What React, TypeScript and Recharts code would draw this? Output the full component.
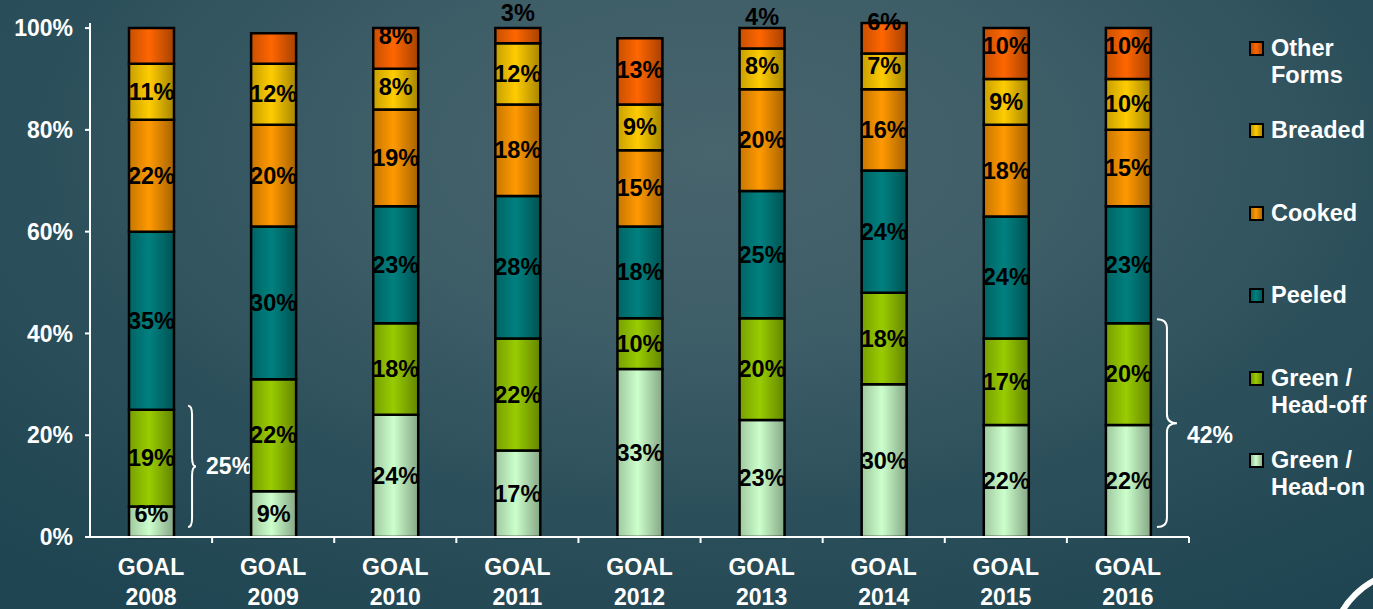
import React from 'react';
import { BarChart, Bar, XAxis, YAxis, LabelList, Legend, ReferenceArea } from 'recharts';

// Product-form mix per goal year (percent of volume)
const years = ['2008', '2009', '2010', '2011', '2012', '2013', '2014', '2015', '2016'];
const headOn = [6, 9, 24, 17, 33, 23, 30, 22, 22];
const headOff = [19, 22, 18, 22, 10, 20, 18, 17, 20];
const peeled = [35, 30, 23, 28, 18, 25, 24, 24, 23];
const cooked = [22, 20, 19, 18, 15, 20, 16, 18, 15];
const breaded = [11, 12, 8, 12, 9, 8, 7, 9, 10];
const otherForms = [7, 6, 8, 3, 13, 4, 6, 10, 10];
const otherLabelled = [false, false, true, true, true, true, true, true, true];
const yTicks = [0, 20, 40, 60, 80, 100];

const data = years.map((year, i) => ({
  year,
  headOn: headOn[i],
  headOff: headOff[i],
  peeled: peeled[i],
  cooked: cooked[i],
  breaded: breaded[i],
  other: otherForms[i],
  otherLabelled: otherLabelled[i],
}));

const series = [
  { key: 'headOn', name: 'Green /\nHead-on', color: '#CCFFCC' },
  { key: 'headOff', name: 'Green /\nHead-off', color: '#99CC00' },
  { key: 'peeled', name: 'Peeled', color: '#008080' },
  { key: 'cooked', name: 'Cooked', color: '#FF9900' },
  { key: 'breaded', name: 'Breaded', color: '#FFCC00' },
  { key: 'other', name: 'Other\nForms', color: '#FF6600' },
];

const FONT = '"Liberation Sans", Arial, sans-serif';
const W = 1373;
const H = 609;
const MARGIN = { top: 23, right: 184, bottom: 0, left: 0 };
const Y_AXIS_W = 90;
const PLOT_W = W - MARGIN.left - MARGIN.right - Y_AXIS_W;
const BAND = PLOT_W / years.length;

function shade(hex: string, f: number) {
  const n = parseInt(hex.slice(1), 16);
  const r = Math.round(((n >> 16) & 255) * f);
  const g = Math.round(((n >> 8) & 255) * f);
  const b = Math.round((n & 255) * f);
  return `rgb(${r},${g},${b})`;
}

const CategoryTick = (props: any) => {
  const { x, y, payload } = props;
  return (
    <g>
      <line x1={x + BAND / 2} x2={x + BAND / 2} y1={y} y2={y + 6} stroke="#fff" strokeWidth={2} />
      <text x={x} y={y} textAnchor="middle" fill="#fff" fontSize={23} fontWeight="bold" fontFamily={FONT}>
        <tspan x={x} dy={38}>GOAL</tspan>
        <tspan x={x} dy={30}>{payload.value}</tspan>
      </text>
    </g>
  );
};

const makeSegmentLabel = (key: string) => (props: any) => {
  const { x, y, width, height, value, index } = props;
  if (key === 'other' && !data[index].otherLabelled) return null;
  const lift = key === 'other' ? Math.max(0, (13.5 - value) * 2.2) : Math.max(0, (9 - value) * 2.5);
  const cx = x + width / 2;
  const cy = y + height / 2 - lift;
  return (
    <text
      x={cx}
      y={cy}
      dy={8}
      textAnchor="middle"
      fill="#000"
      fontSize={23.5}
      fontWeight="bold"
      fontFamily={FONT}
    >
      {`${value}%`}
    </text>
  );
};

const Brace = (props: any) => {
  const { x, y, width, height, gap, depth, total, labelDy } = props;
  const x0 = x + width / 2 + gap;
  const top = y - 4;
  const bottom = y + height - 10;
  const mid = (top + bottom) / 2;
  const r = 9;
  const xm = x0 + depth / 2;
  const d = [
    `M ${x0} ${top}`,
    `Q ${xm} ${top} ${xm} ${top + r}`,
    `L ${xm} ${mid - r}`,
    `Q ${xm} ${mid} ${x0 + depth} ${mid}`,
    `Q ${xm} ${mid} ${xm} ${mid + r}`,
    `L ${xm} ${bottom - r}`,
    `Q ${xm} ${bottom} ${x0} ${bottom}`,
  ].join(' ');
  return (
    <g>
      <path d={d} fill="none" stroke="#fff" strokeWidth={2} />
      <text
        x={x0 + depth + 10}
        y={mid + labelDy}
        dy={8}
        fill="#fff"
        fontSize={23}
        fontWeight="bold"
        fontFamily={FONT}
      >{`${total}%`}</text>
    </g>
  );
};

// Legend lists the stack top-down: Other Forms first, Head-on last
const LegendContent = () => {
  const items = [...series].reverse();
  return (
    <div style={{ position: 'relative', fontFamily: FONT }}>
      {items.map((s, i) => (
        <div key={s.key} style={{ position: 'absolute', left: 0, top: i * 82.4, width: 124 }}>
          <div
            style={{
              position: 'absolute',
              left: 0,
              top: 6,
              width: 11,
              height: 11,
              border: '2px solid #000',
              background: `linear-gradient(90deg, ${shade(s.color, 0.75)}, ${s.color} 45%, ${shade(s.color, 0.7)})`,
            }}
          />
          <div
            style={{
              position: 'absolute',
              left: 22,
              top: 0,
              color: '#fff',
              fontSize: 23.5,
              fontWeight: 'bold',
              lineHeight: '27px',
              whiteSpace: 'pre',
            }}
          >
            {s.name}
          </div>
        </div>
      ))}
    </div>
  );
};

export default function App() {
  const sum2008 = headOn[0] + headOff[0];
  const last = years.length - 1;
  const sumLast = headOn[last] + headOff[last];
  return (
    <div
      style={{
        position: 'absolute',
        left: 0,
        top: 0,
        width: W,
        height: H,
        overflow: 'hidden',
        background:
          'radial-gradient(ellipse 75% 90% at 52% 25%, #48646d 0%, #3d5d67 35%, #2c505b 65%, #1f4552 100%)',
      }}
    >
      <BarChart width={W} height={H} data={data} margin={MARGIN} barSize={45}>
        <defs>
          {series.map((s) => (
            <linearGradient key={s.key} id={`g-${s.key}`} x1="0" y1="0" x2="1" y2="0">
              <stop offset="0%" stopColor={shade(s.color, 0.78)} />
              <stop offset="45%" stopColor={s.color} />
              <stop offset="100%" stopColor={shade(s.color, 0.65)} />
            </linearGradient>
          ))}
        </defs>
        <XAxis
          dataKey="year"
          type="category"
          height={72}
          axisLine={{ stroke: '#fff', strokeWidth: 2 }}
          tickLine={false}
          tickSize={0}
          tickMargin={0}
          interval={0}
          tick={<CategoryTick />}
        />
        <YAxis
          type="number"
          width={Y_AXIS_W}
          domain={[0, 'dataMax']}
          ticks={yTicks}
          interval={0}
          tickFormatter={(v: number) => `${v}%`}
          axisLine={{ stroke: '#fff', strokeWidth: 2 }}
          tickLine={{ stroke: '#fff', strokeWidth: 2 }}
          tickSize={5}
          tickMargin={12}
          tick={{ fill: '#fff', fontSize: 23, fontWeight: 'bold', fontFamily: FONT }}
        />
        {series.map((s) => (
          <Bar
            key={s.key}
            dataKey={s.key}
            name={s.name}
            stackId="mix"
            fill={`url(#g-${s.key})`}
            stroke="#000"
            strokeWidth={2.5}
            isAnimationActive={false}
          >
            <LabelList dataKey={s.key} content={makeSegmentLabel(s.key)} />
          </Bar>
        ))}
        <ReferenceArea
          x1={years[0]}
          x2={years[0]}
          y1={0}
          y2={sum2008}
          ifOverflow="visible"
          shape={(p: any) => <Brace {...p} gap={37} depth={8} total={sum2008} labelDy={0} />}
        />
        <ReferenceArea
          x1={years[last]}
          x2={years[last]}
          y1={0}
          y2={sumLast}
          ifOverflow="visible"
          shape={(p: any) => <Brace {...p} gap={29} depth={20} total={sumLast} labelDy={12} />}
        />
        <Legend
          layout="vertical"
          align="center"
          verticalAlign="middle"
          content={<LegendContent />}
          wrapperStyle={{ position: 'absolute', left: 1249, top: 35, width: 124, height: 500 }}
        />
      </BarChart>
      <svg
        width={W}
        height={H}
        style={{ position: 'absolute', left: 0, top: 0, pointerEvents: 'none' }}
      >
        <circle cx={1415} cy={655} r={85} fill="none" stroke="#fff" strokeWidth={6} />
      </svg>
    </div>
  );
}
